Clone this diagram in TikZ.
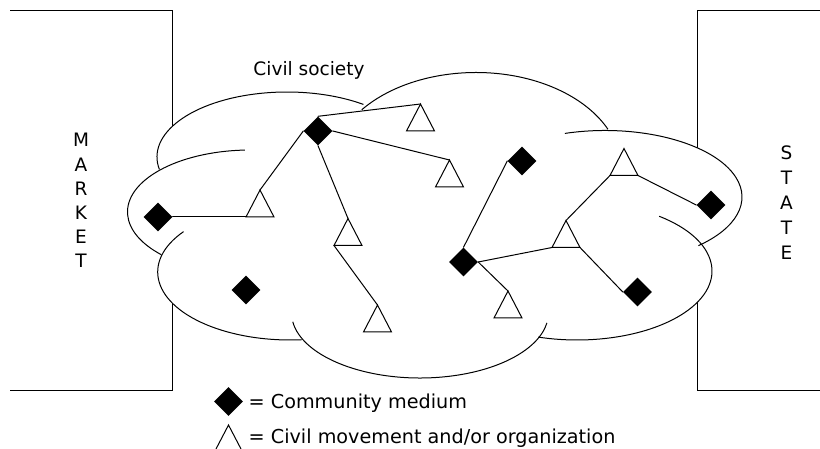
\documentclass[tikz,border=0pt]{standalone}
\usepackage{fontspec}
\setmainfont{DejaVu Sans}
\usetikzlibrary{shapes.geometric}
\tikzset{
  medium/.style={diamond, fill=black, draw=none, minimum width=29pt, minimum height=29pt, inner sep=0pt},
  link/.style={line width=1pt, line cap=round},
  frame/.style={line width=1pt},
  cloudline/.style={line width=1pt},
  lbl/.style={font=\fontsize{18.5}{24}\selectfont, inner sep=0pt},
  leg/.style={font=\fontsize{19.2}{24}\selectfont, inner sep=0pt}
}
\newcommand\puffFill[4]{\fill[white] (#1,#2) ellipse [x radius=#3pt, y radius=#4pt];}
\newcommand\puffArc[6]{\draw[cloudline] ([shift={(#5:#3pt and #4pt)}]#1,#2) arc[start angle=#5, end angle=#6, x radius=#3pt, y radius=#4pt];}
\begin{document}
\begin{tikzpicture}[x=1pt, y=-1pt]
\useasboundingbox (0,0) rectangle (820,449);
% frames
\draw[frame] (10,11) -- (172,11) -- (172,390) -- (10,390);
\draw[frame] (820,11) -- (697,11) -- (697,390) -- (820,390);
% cloud fill
\puffFill{287}{157}{130}{65}
\puffFill{476}{169.5}{145}{97}
\puffFill{605}{197}{137}{66.5}
\puffFill{577}{271}{135}{69}
\puffFill{420}{312.7}{128.5}{65.3}
\puffFill{290}{272}{132.3}{68}
\puffFill{250.5}{212}{123}{62}
% cloud outline
\puffArc{287}{157}{130}{65}{191}{54}
\puffArc{476}{169.5}{145}{97}{142}{24.5}
\puffArc{605}{197}{137}{66.5}{107}{-47}
\puffArc{577}{271}{135}{69}{52.5}{-106.7}
\puffArc{420}{312.7}{128.5}{65.3}{188}{351}
\puffArc{290}{272}{132.3}{68}{143.6}{275}
\puffArc{250.5}{212}{123}{62}{92.6}{223.5}
% nodes
\node[medium] (D1) at (158,217) {};
\node[medium] (D2) at (318,131) {};
\node[medium] (D3) at (246,290) {};
\node[medium] (D4) at (522,161) {};
\node[medium] (D5) at (463.5,262) {};
\node[medium] (D6) at (711,205) {};
\node[medium] (D7) at (637.5,292) {};
\path (420.5,104) coordinate (T1-a) ++(-14,27) coordinate (T1-l) ++(28,0) coordinate (T1-r);
\path (449.5,160) coordinate (T2-a) ++(-14,27) coordinate (T2-l) ++(28,0) coordinate (T2-r);
\path (260,190) coordinate (T3-a) ++(-14,27) coordinate (T3-l) ++(28,0) coordinate (T3-r);
\path (348,218.5) coordinate (T4-a) ++(-14,27) coordinate (T4-l) ++(28,0) coordinate (T4-r);
\path (377.5,305) coordinate (T5-a) ++(-14,27) coordinate (T5-l) ++(28,0) coordinate (T5-r);
\path (624,148.5) coordinate (T6-a) ++(-14,27) coordinate (T6-l) ++(28,0) coordinate (T6-r);
\path (566,220.5) coordinate (T7-a) ++(-14,27) coordinate (T7-l) ++(28,0) coordinate (T7-r);
\path (508,291) coordinate (T8-a) ++(-14,27) coordinate (T8-l) ++(28,0) coordinate (T8-r);
% connectors
\draw[link] (D1.east) -- (T3-l);
\draw[link] (T3-a) -- (D2.west);
\draw[link] (D2.north) -- (T1-a);
\draw[link] (D2.east) -- (T2-a);
\draw[link] (D2.south) -- (T4-a);
\draw[link] (T4-l) -- (T5-a);
\draw[link] (D5.north) -- (D4.west);
\draw[link] (D5.east) -- (T7-l);
\draw[link] (D5.east) -- (T8-a);
\draw[link] (T7-a) -- (T6-l);
\draw[link] (T6-r) -- (D6.west);
\draw[link] (T7-r) -- (D7.west);
% triangles
\foreach \t in {T1,T2,T3,T4,T5,T6,T7,T8}
  \draw[line width=1pt, fill=white] (\t-a) -- (\t-r) -- (\t-l) -- cycle;
% labels
\node[lbl, anchor=base] (cs) at (309,75.3) {Civil society};
\node[lbl, align=center, font=\fontsize{18.5}{24.1}\selectfont] (market) at (81,200.5) {M\\A\\R\\K\\E\\T};
\node[lbl, align=center, font=\fontsize{18.5}{25}\selectfont] (state) at (786.5,203) {S\\T\\A\\T\\E};
% legend
\node[medium] (Lmed) at (228.5,401.5) {};
\node[leg, anchor=base west] (Lmedtxt) at (248.5,408.3) {= Community medium};
\coordinate (Ltri) at (228.5,425);
\draw[line width=1pt] (216,449) -- (Ltri) -- (241,449);
\node[leg, anchor=base west] (Ltritxt) at (248.5,443.3) {= Civil movement and/or organization};
\end{tikzpicture}
\end{document}
